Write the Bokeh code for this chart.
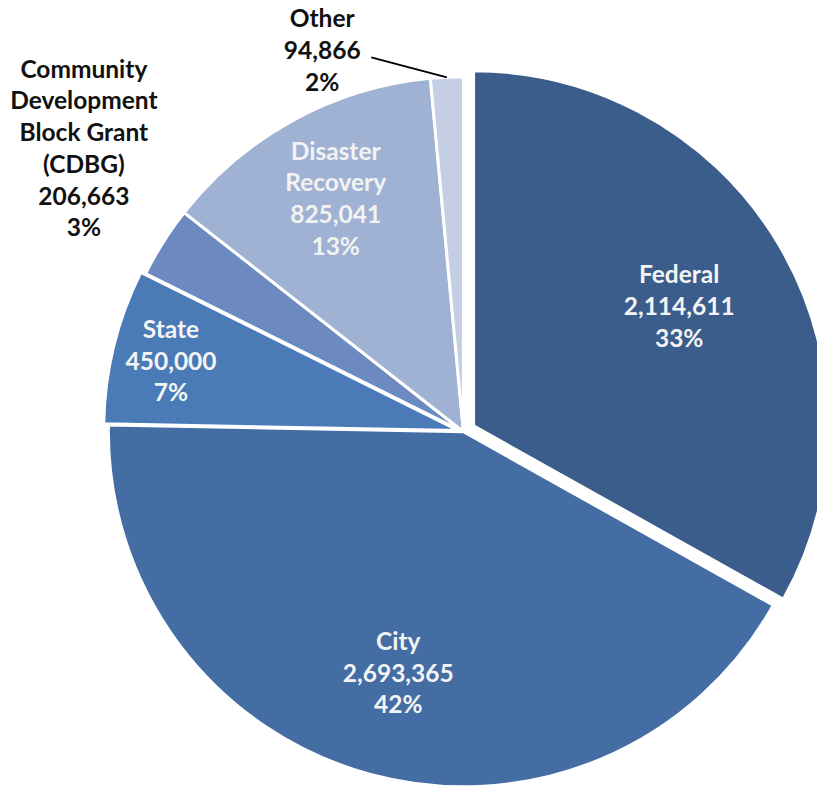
import numpy as np
from bokeh.plotting import figure
from bokeh.models import Range1d, ColumnDataSource
from bokeh.embed import file_html
from bokeh.resources import INLINE
from bokeh.core.properties import value

# ---- data ----
categories = ["Federal", "City", "State", "Community Development Block Grant (CDBG)",
              "Disaster Recovery", "Other"]
label_names = ["Federal", "City", "State", "Community\nDevelopment\nBlock Grant\n(CDBG)",
               "Disaster\nRecovery", "Other"]
amounts = [2114611, 2693365, 450000, 206663, 825041, 94866]
percents = [33, 42, 7, 3, 13, 2]

# ---- style ----
colors = ["#3A5D8B", "#436DA3", "#4A7BB7", "#6C8ABF", "#A0B2D4", "#C4CEE4"]
text_colors = ["#F4F4F4", "#F4F4F4", "#F4F4F4", "#111111", "#F2F2F2", "#111111"]
explode = [12, 0, 5, 0, 0, 0]
label_r = [243, 254, 302, None, 272, None]
outside_pos = {3: (85, 658), 5: (328, 758)}   # label block centres for outside labels
CX, CY, R = 472, 368, 362
FONT = "Lato"

total = float(sum(amounts))
frac = np.array(amounts) / total
cum = np.concatenate([[0], np.cumsum(frac)])
theta1 = cum[:-1] * 2 * np.pi          # clockwise from 12 o'clock
theta2 = cum[1:] * 2 * np.pi
mid = (theta1 + theta2) / 2

cx = CX + np.array(explode) * np.sin(mid)
cy = CY + np.array(explode) * np.cos(mid)

src = ColumnDataSource(dict(
    x=cx, y=cy,
    start=np.pi / 2 - theta1, end=np.pi / 2 - theta2,
    color=colors, name=categories,
))

p = figure(width=817, height=792, x_range=Range1d(0, 833), y_range=Range1d(0, 808),
           output_backend="svg", toolbar_location=None, min_border=0)
p.axis.visible = False
p.grid.visible = False
p.outline_line_color = None
p.background_fill_color = "white"

p.wedge(x="x", y="y", radius=R, start_angle="start", end_angle="end", direction="clock",
        fill_color="color", line_color="white", line_width=3, source=src)

# labels
lx, ly, lt, lc = [], [], [], []
for i in range(len(amounts)):
    txt = f"{label_names[i]}\n{amounts[i]:,}\n{percents[i]}%"
    if label_r[i] is not None:
        x = cx[i] + label_r[i] * np.sin(mid[i])
        y = cy[i] + label_r[i] * np.cos(mid[i])
    else:
        x, y = outside_pos[i]
    lx.append(x); ly.append(y); lt.append(txt); lc.append(text_colors[i])

p.text(x=lx, y=ly, text=lt, text_color=lc, text_font=value(FONT), text_font_style="bold",
       text_font_size="24.5px", text_align="center", text_baseline="middle",
       text_line_height=1.095)

# leader line for "Other"
i = 5
ex = cx[i] + R * np.sin(mid[i])
ey = cy[i] + R * np.cos(mid[i])
p.line(x=[outside_pos[i][0] + 50, ex], y=[outside_pos[i][1] - 8, ey],
       line_color="black", line_width=2)

open("out.html", "w").write(file_html(p, INLINE))
